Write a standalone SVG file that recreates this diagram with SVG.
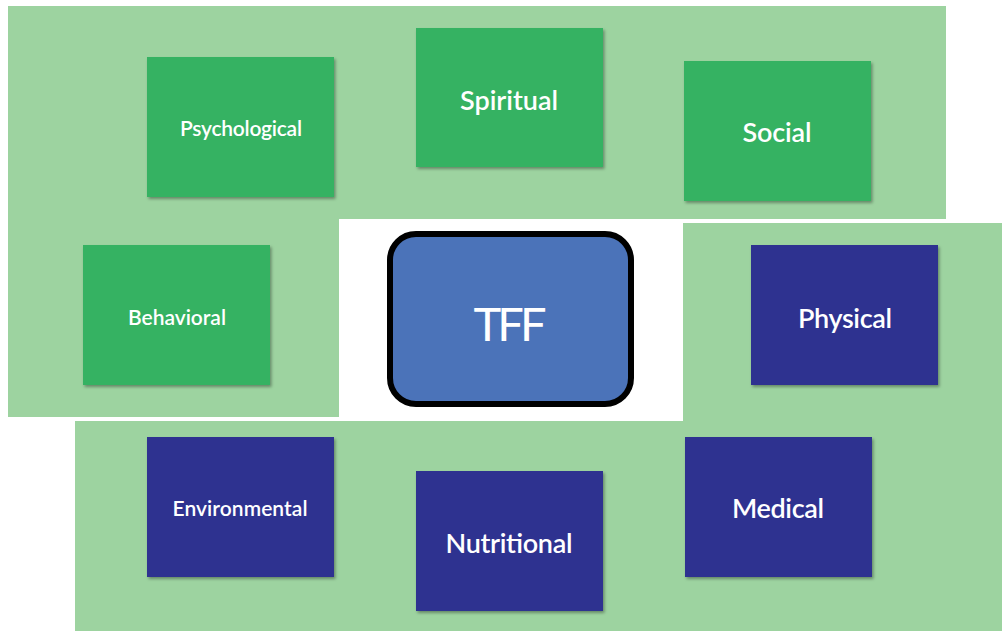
<svg xmlns="http://www.w3.org/2000/svg" width="1002" height="631" viewBox="0 0 1002 631">
  <defs>
    <filter id="sh" x="-10%" y="-10%" width="125%" height="125%">
      <feDropShadow dx="1.5" dy="2" stdDeviation="1.5" flood-color="#000" flood-opacity="0.35"/>
    </filter>
    <style>
      .bg { fill: #9dd3a0; }
      .g { fill: #35b262; filter: url(#sh); }
      .b { fill: #2e3190; filter: url(#sh); }
      .t { fill: #ffffff; font-family: Lato, "Open Sans", "Liberation Sans", sans-serif; text-anchor: middle; font-weight: 600; }
      .s { font-size: 21px; }
      .l { font-size: 27px; }
      .c { font-size: 47px; font-weight: 400; }
    </style>
  </defs>
  <rect width="1002" height="631" fill="#ffffff"/>
  <g id="background">
    <polygon class="bg" points="8,6 946,6 946,219 339,219 339,417 8,417"/>
    <polygon class="bg" points="683,223 1002,223 1002,631 75,631 75,421 683,421"/>
  </g>
  <g id="psychological">
    <rect class="g" x="147" y="57" width="187" height="140"/>
    <text class="t s" x="241" y="136" textLength="122">Psychological</text>
  </g>
  <g id="spiritual">
    <rect class="g" x="416" y="28" width="187" height="139"/>
    <text class="t l" x="509" y="110" textLength="98">Spiritual</text>
  </g>
  <g id="social">
    <rect class="g" x="684" y="61" width="187" height="140"/>
    <text class="t l" x="777" y="142" textLength="69">Social</text>
  </g>
  <g id="behavioral">
    <rect class="g" x="83" y="245" width="187" height="140"/>
    <text class="t s" x="177" y="325" textLength="98">Behavioral</text>
  </g>
  <g id="physical">
    <rect class="b" x="751" y="245" width="187" height="140"/>
    <text class="t l" x="845" y="328" textLength="94">Physical</text>
  </g>
  <g id="environmental">
    <rect class="b" x="147" y="437" width="187" height="140"/>
    <text class="t s" x="240" y="516" textLength="135">Environmental</text>
  </g>
  <g id="nutritional">
    <rect class="b" x="416" y="471" width="187" height="140"/>
    <text class="t l" x="509" y="553" textLength="127">Nutritional</text>
  </g>
  <g id="medical">
    <rect class="b" x="685" y="437" width="187" height="140"/>
    <text class="t l" x="778" y="518" textLength="92">Medical</text>
  </g>
  <g id="tff">
    <rect x="390" y="234" width="241" height="170" rx="26" ry="26" fill="#4b73b9" stroke="#000000" stroke-width="6"/>
    <text class="t c" x="510" y="341" textLength="73">TFF</text>
  </g>
  <g id="connectors"/>
</svg>
